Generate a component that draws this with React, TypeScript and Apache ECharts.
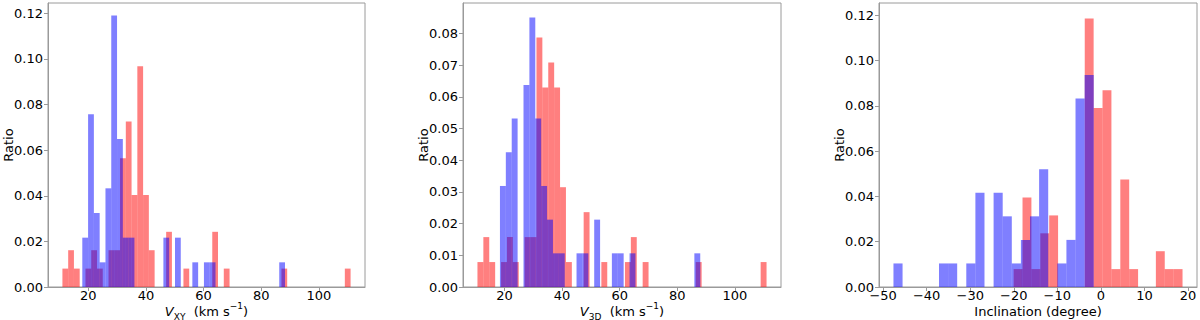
import React, { useEffect, useRef } from 'react';
import * as echarts from 'echarts';

// ---------- Panel 1: V_XY histograms (counts per bin) ----------
const vxyRedStart = 11.0;
const vxyRedWidth = 2.0;
const vxyRedCounts = [1, 2, 1, 0, 1, 2, 1, 0, 2, 2, 7, 9, 5, 12, 5, 2, 0, 0, 3, 0, 0, 1, 0, 0, 0, 0, 3, 0, 1, 0, 0, 0, 0, 0, 0, 0, 0, 0, 1, 0, 0, 0, 0, 0, 0, 0, 0, 0, 0, 1];
const vxyBlueStart = 17.9;
const vxyBlueWidth = 2.01;
const vxyBlueCounts = [2, 7, 3, 1, 4, 11, 6, 2, 2, 0, 0, 0, 0, 0, 2, 0, 2, 0, 0, 1, 0, 1, 1, 0, 0, 0, 0, 0, 0, 0, 0, 0, 0, 0, 1];

// ---------- Panel 2: V_3D histograms ----------
const v3dRedStart = 10.6;
const v3dRedWidth = 2.049;
const v3dRedCounts = [1, 2, 1, 0, 1, 2, 1, 0, 2, 2, 10, 8, 9, 8, 4, 1, 0, 0, 3, 0, 0, 1, 0, 0, 0, 1, 2, 0, 1, 0, 0, 0, 0, 0, 0, 0, 0, 1, 0, 0, 0, 0, 0, 0, 0, 0, 0, 0, 1];
const v3dBlueStart = 18.41;
const v3dBlueWidth = 2.046;
const v3dBlueCounts = [3, 4, 5, 0, 6, 8, 5, 3, 2, 1, 1, 0, 0, 1, 1, 0, 2, 0, 0, 1, 1, 0, 1, 0, 0, 0, 0, 0, 0, 0, 0, 0, 0, 1];

// ---------- Panel 3: Inclination histograms ----------
const incRedStart = -20.03;
const incRedWidth = 2.041;
const incRedCounts = [1, 5, 1, 3, 4, 0, 0, 0, 15, 10, 11, 1, 6, 1, 0, 0, 2, 1, 1];
const incBlueStart = -47.62;
const incBlueWidth = 2.09;
const incBlueCounts = [1, 0, 0, 0, 0, 1, 1, 0, 1, 4, 0, 4, 3, 1, 2, 3, 5, 0, 1, 2, 8, 9];

// ---------- Tick labels ----------
const vxyXTicks = [20, 40, 60, 80, 100];
const v3dXTicks = [20, 40, 60, 80, 100];
const incXTicks = [-50, -40, -30, -20, -10, 0, 10, 20];
const vxyYTicks = [0, 0.02, 0.04, 0.06, 0.08, 0.1, 0.12];
const v3dYTicks = [0, 0.01, 0.02, 0.03, 0.04, 0.05, 0.06, 0.07, 0.08];
const incYTicks = [0, 0.02, 0.04, 0.06, 0.08, 0.1, 0.12];

const RED = 'rgba(255,0,0,0.5)';
const BLUE = 'rgba(0,0,255,0.5)';
const FONT = 'DejaVu Sans';
const FRAME = '#9a9a9a';
const FS = 13;

function histData(start: number, width: number, counts: number[]) {
  const n = counts.reduce((a, b) => a + b, 0);
  const out: number[][] = [];
  counts.forEach((c, i) => {
    if (c > 0) out.push([start + i * width, start + (i + 1) * width, c / (n * width)]);
  });
  return out;
}

function histSeries(idx: number, color: string, data: number[][]) {
  return {
    type: 'custom',
    xAxisIndex: idx,
    yAxisIndex: idx,
    silent: true,
    encode: { x: [0, 1], y: 2 },
    data,
    renderItem: (params: any, api: any) => {
      const p0 = api.coord([api.value(0), api.value(2)]);
      const p1 = api.coord([api.value(1), 0]);
      return {
        type: 'rect',
        shape: { x: p0[0], y: p0[1], width: p1[0] - p0[0], height: p1[1] - p0[1] },
        style: { fill: color, stroke: null },
      };
    },
  };
}

const fmtX = (v: number) => (v < 0 ? '\u2212' + Math.abs(v) : String(v));
const fmtY = (v: number) => v.toFixed(2);

function xAxis(idx: number, min: number, max: number, ticks: number[], name: string, rich: any) {
  return {
    type: 'value',
    gridIndex: idx,
    min,
    max,
    splitLine: { show: false },
    axisLine: { show: true, onZero: false, lineStyle: { color: FRAME, width: 1 } },
    axisTick: { show: true, customValues: ticks, length: 4, lineStyle: { color: FRAME } },
    axisLabel: {
      customValues: ticks,
      formatter: fmtX,
      color: '#000',
      fontSize: FS,
      fontFamily: FONT,
      margin: 2,
    },
    name,
    nameLocation: 'middle',
    nameGap: 14,
    nameMoveOverlap: false,
    nameTextStyle: { color: '#000', fontSize: FS, fontFamily: FONT, lineHeight: 20, rich },
  };
}

function yAxis(idx: number, max: number, ticks: number[]) {
  return {
    type: 'value',
    gridIndex: idx,
    min: 0,
    max,
    splitLine: { show: false },
    axisLine: { show: true, onZero: false, lineStyle: { color: FRAME, width: 1 } },
    axisTick: { show: true, customValues: ticks, length: 4, lineStyle: { color: FRAME } },
    axisLabel: {
      customValues: ticks,
      formatter: fmtY,
      color: '#000',
      fontSize: FS,
      fontFamily: FONT,
      margin: 5,
    },
    name: 'Ratio',
    nameLocation: 'middle',
    nameGap: 33,
    nameMoveOverlap: false,
    nameTextStyle: { color: '#000', fontSize: FS, fontFamily: FONT },
  };
}

const velRich = () => ({
  it: { fontStyle: 'italic', fontSize: FS, fontFamily: FONT, color: '#000', lineHeight: 20, verticalAlign: 'middle' },
  n: { fontSize: FS, fontFamily: FONT, color: '#000', lineHeight: 20, verticalAlign: 'middle' },
  sub: { fontSize: 9, fontFamily: FONT, color: '#000', lineHeight: 10, verticalAlign: 'bottom' },
  sup: { fontSize: 9, fontFamily: FONT, color: '#000', lineHeight: 10, verticalAlign: 'top' },
});

export default function App() {
  const ref = useRef<HTMLDivElement>(null);
  useEffect(() => {
    if (!ref.current) return;
    const chart = echarts.init(ref.current, undefined, { renderer: 'svg' });
    const gridBase = {
      top: 3,
      height: 284,
      show: true,
      borderColor: FRAME,
      borderWidth: 1,
      backgroundColor: 'transparent',
      containLabel: false,
      outerBoundsMode: 'none',
    };
    chart.setOption({
      animation: false,
      grid: [
        { ...gridBase, left: 48, width: 317 },
        { ...gridBase, left: 463, width: 318 },
        { ...gridBase, left: 879, width: 318 },
      ],
      xAxis: [
        xAxis(0, 6.0, 116.0, vxyXTicks, '{it|V}{sub|XY}{n|  (km s}{sup|\u22121}{n|)}', velRich()),
        xAxis(1, 5.58, 116.02, v3dXTicks, '{it|V}{sub|3D}{n|  (km s}{sup|\u22121}{n|)}', velRich()),
        xAxis(2, -50.94, 22.07, incXTicks, 'Inclination (degree)', undefined),
      ],
      yAxis: [yAxis(0, 0.1245, vxyYTicks), yAxis(1, 0.0896, v3dYTicks), yAxis(2, 0.1254, incYTicks)],
      series: [
        histSeries(0, RED, histData(vxyRedStart, vxyRedWidth, vxyRedCounts)),
        histSeries(0, BLUE, histData(vxyBlueStart, vxyBlueWidth, vxyBlueCounts)),
        histSeries(1, RED, histData(v3dRedStart, v3dRedWidth, v3dRedCounts)),
        histSeries(1, BLUE, histData(v3dBlueStart, v3dBlueWidth, v3dBlueCounts)),
        histSeries(2, RED, histData(incRedStart, incRedWidth, incRedCounts)),
        histSeries(2, BLUE, histData(incBlueStart, incBlueWidth, incBlueCounts)),
      ],
    });
    return () => chart.dispose();
  }, []);
  return (
    <div
      ref={ref}
      style={{ position: 'absolute', left: 0, top: 0, width: 1200, height: 320, background: '#fff' }}
    />
  );
}
